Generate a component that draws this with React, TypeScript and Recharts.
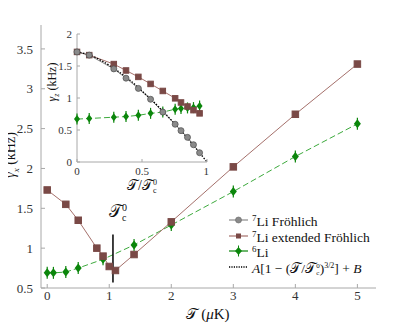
import { Line, LineChart, ReferenceLine, XAxis, YAxis } from 'recharts';

// Main panel: damping rate vs temperature
const extT = [0, 0.3, 0.5, 0.8, 0.9, 1.0, 1.1, 1.4, 2, 3, 4, 5];
const extGamma = [1.73, 1.55, 1.35, 1.0, 0.9, 0.77, 0.72, 0.92, 1.33, 2.02, 2.68, 3.31];
const li6T = [0, 0.1, 0.3, 0.5, 0.9, 1.4, 2, 3, 4, 5];
const li6Gamma = [0.69, 0.69, 0.7, 0.75, 0.86, 1.04, 1.29, 1.71, 2.15, 2.56];
const mainXTicks = [0, 1, 2, 3, 4, 5];
const mainYTicks = [0.5, 1, 1.5, 2, 2.5, 3, 3.5];
const tc0 = 1.06;
const tcMarkerRange = [0.57, 1.17];

// Inset: vs reduced temperature T/Tc0
const insetX = [0, 0.094, 0.283, 0.377, 0.472, 0.566, 0.66, 0.755, 0.8, 0.85, 0.896, 0.943];
const insetFroehlich = [1.72, 1.67, 1.455, 1.31, 1.15, 0.98, 0.78, 0.59, 0.49, 0.385, 0.27, 0.145];
const insetExtended = [1.72, 1.67, 1.53, 1.43, 1.33, 1.22, 1.11, 0.995, 0.93, 0.867, 0.81, 0.76];
const insetLi6 = [0.67, 0.68, 0.7, 0.71, 0.73, 0.76, 0.78, 0.825, 0.835, 0.845, 0.85, 0.875];
const fitX = [0, 0.1, 0.2, 0.3, 0.4, 0.5, 0.6, 0.7, 0.8, 0.9, 1.0];
const fitY = [1.72, 1.67, 1.57, 1.44, 1.29, 1.11, 0.92, 0.71, 0.49, 0.25, 0.0];
const insetXTicks = [0, 0.5, 1];
const insetYTicks = [0, 0.5, 1, 1.5, 2];

const BROWN = '#7a4946';
const BROWN_LINE = '#a5706b';
const GREEN = '#0b860b';
const GREEN_LINE = '#3daa3d';
const GRAY = '#8a8a8a';
const FRAME = '#a8a8a8';
const SERIF = 'Liberation Serif';

const pairs = (xs: number[], ys: number[]) => xs.map((x, i) => ({ x, y: ys[i] }));

const square = (s: number) => (p: any) => (
  <rect key={`s${p.index}`} x={p.cx - s / 2} y={p.cy - s / 2} width={s} height={s} fill={BROWN} stroke={BROWN} />
);
const diamond = (w: number, h: number) => (p: any) => (
  <g key={`d${p.index}`}>
    <line x1={p.cx} x2={p.cx} y1={p.cy - h - 1.5} y2={p.cy + h + 1.5} stroke={GREEN} strokeWidth={1.2} />
    <path d={`M${p.cx},${p.cy - h} L${p.cx + w},${p.cy} L${p.cx},${p.cy + h} L${p.cx - w},${p.cy} Z`} fill={GREEN} />
  </g>
);
const circle = (r: number) => (p: any) => (
  <circle key={`c${p.index}`} cx={p.cx} cy={p.cy} r={r} fill={GRAY} stroke="#555" strokeWidth={0.8} />
);

const tickStyle = { fill: '#333', fontSize: 13, fontFamily: SERIF };
const smallTick = { fill: '#333', fontSize: 11, fontFamily: SERIF };
const blank = () => '';
const Tcal = () => <span style={{ fontStyle: 'normal' }}>𝒯</span>;
const SubSup = ({ size }: { size: number }) => (
  <span style={{ display: 'inline-flex', flexDirection: 'column', fontSize: size, lineHeight: `${size}px`, verticalAlign: 'middle' }}>
    <span>0</span><span>c</span>
  </span>
);

function Inset() {
  return (
    <div style={{ position: 'absolute', left: 40, top: 26 }}>
      <LineChart width={169} height={158} margin={{ top: 8, right: 2, bottom: 6, left: 13 }}>
        <XAxis xAxisId="b" type="number" dataKey="x" domain={[0, 1]} ticks={insetXTicks} tick={smallTick}
          tickSize={-3} tickMargin={8} height={16} stroke={FRAME} tickFormatter={(v) => String(v)} />
        <XAxis xAxisId="t" orientation="top" type="number" dataKey="x" domain={[0, 1]} ticks={insetXTicks}
          tickSize={-3} height={0} stroke={FRAME} tickFormatter={blank} />
        <YAxis yAxisId="l" type="number" domain={[0, 2]} ticks={insetYTicks} tick={smallTick}
          tickSize={-3} tickMargin={8} width={24} stroke={FRAME} />
        <YAxis yAxisId="r" orientation="right" type="number" domain={[0, 2]} ticks={insetYTicks}
          tickSize={-3} width={0} stroke={FRAME} tickFormatter={blank} />
        <Line xAxisId="b" yAxisId="l" data={pairs(insetX, insetLi6)} dataKey="y" stroke={GREEN_LINE}
          strokeDasharray="6 3" strokeWidth={1} dot={diamond(3, 4)} isAnimationActive={false} />
        <Line xAxisId="b" yAxisId="l" data={pairs(insetX, insetExtended)} dataKey="y" stroke={BROWN_LINE}
          strokeWidth={1} dot={square(5.5)} isAnimationActive={false} />
        <Line xAxisId="b" yAxisId="l" data={pairs(insetX, insetFroehlich)} dataKey="y" stroke={GRAY}
          strokeWidth={1} dot={circle(3)} isAnimationActive={false} />
        <Line xAxisId="b" yAxisId="l" data={pairs(fitX, fitY)} dataKey="y" type="monotone" stroke="#000"
          strokeDasharray="1.5 1.5" strokeWidth={1.3} dot={false} isAnimationActive={false} />
      </LineChart>
    </div>
  );
}

export default function App() {
  const legendRow = (sample: JSX.Element, label: JSX.Element) => (
    <div style={{ display: 'flex', alignItems: 'center', height: 15.7 }}>
      <svg width={22} height={12} style={{ marginRight: 2 }}>{sample}</svg>
      <span>{label}</span>
    </div>
  );
  return (
    <div style={{ position: 'relative', width: 415, height: 334, margin: -8, fontFamily: SERIF, color: '#111' }}>
      <LineChart width={415} height={334} margin={{ top: 25, right: 39, bottom: 26, left: 11 }}>
        <XAxis xAxisId="b" type="number" dataKey="x" domain={[-0.1, 5.3]} ticks={mainXTicks} tick={tickStyle}
          tickSize={-4} tickMargin={7} height={20} stroke={FRAME} />
        <XAxis xAxisId="t" orientation="top" type="number" dataKey="x" domain={[-0.1, 5.3]} ticks={mainXTicks}
          tickSize={-4} height={0} stroke={FRAME} tickFormatter={blank} />
        <YAxis yAxisId="l" type="number" domain={[0.5, 3.8]} ticks={mainYTicks} tick={tickStyle}
          tickSize={-4} tickMargin={12} width={30} stroke={FRAME} />
        <YAxis yAxisId="r" orientation="right" type="number" domain={[0.5, 3.8]} ticks={mainYTicks}
          tickSize={-4} width={0} stroke={FRAME} tickFormatter={blank} />
        <Line xAxisId="b" yAxisId="l" data={pairs(li6T, li6Gamma)} dataKey="y" stroke={GREEN_LINE}
          strokeDasharray="6 3" strokeWidth={1} dot={diamond(3.5, 4.5)} isAnimationActive={false} />
        <Line xAxisId="b" yAxisId="l" data={pairs(extT, extGamma)} dataKey="y" stroke={BROWN_LINE}
          strokeWidth={1} dot={square(6.5)} isAnimationActive={false} />
        <ReferenceLine xAxisId="b" yAxisId="l" segment={[{ x: tc0, y: tcMarkerRange[0] }, { x: tc0, y: tcMarkerRange[1] }]}
          stroke="#000" strokeWidth={1.5} />
      </LineChart>
      <Inset />
      {/* axis titles */}
      <div style={{ position: 'absolute', left: 12, top: 155, transform: 'translate(-50%,-50%) rotate(-90deg)', fontSize: 14, whiteSpace: 'nowrap' }}>
        <i>γ</i><sub style={{ fontSize: 9 }}><i>x</i></sub> (kHz)
      </div>
      <div style={{ position: 'absolute', left: 208, top: 314, transform: 'translate(-50%,-50%)', fontSize: 15, whiteSpace: 'nowrap' }}>
        <Tcal /> (<i>μ</i>K)
      </div>
      <div style={{ position: 'absolute', left: 53, top: 82, transform: 'translate(-50%,-50%) rotate(-90deg)', fontSize: 12, whiteSpace: 'nowrap' }}>
        <i>γ</i><sub style={{ fontSize: 8 }}><i>z</i></sub> (kHz)
      </div>
      <div style={{ position: 'absolute', left: 142, top: 186, transform: 'translate(-50%,-50%)', fontSize: 14, whiteSpace: 'nowrap' }}>
        <Tcal />/<Tcal /><SubSup size={8} />
      </div>
      <div style={{ position: 'absolute', left: 118, top: 213, transform: 'translate(-50%,-50%)', fontSize: 17, whiteSpace: 'nowrap' }}>
        <Tcal /><SubSup size={10} />
      </div>
      {/* legend */}
      <div style={{ position: 'absolute', left: 228, top: 212, fontSize: 13.5, lineHeight: '15px' }}>
        {legendRow(
          <g><line x1={1} x2={20} y1={6} y2={6} stroke={GRAY} strokeWidth={1.2} /><circle cx={10.5} cy={6} r={3} fill={GRAY} stroke="#666" strokeWidth={0.6} /></g>,
          <span><sup style={{ fontSize: 9 }}>7</sup>Li Fröhlich</span>
        )}
        {legendRow(
          <g><line x1={1} x2={20} y1={6} y2={6} stroke={BROWN_LINE} strokeWidth={1.2} /><rect x={8} y={3.5} width={5} height={5} fill={BROWN} /></g>,
          <span><sup style={{ fontSize: 9 }}>7</sup>Li extended Fröhlich</span>
        )}
        {legendRow(
          <g><line x1={1} x2={20} y1={6} y2={6} stroke={GREEN} strokeWidth={1.2} /><path d="M10.5,2 L14,6 L10.5,10 L7,6 Z" fill={GREEN} /><line x1={10.5} x2={10.5} y1={0.5} y2={11.5} stroke={GREEN} /></g>,
          <span><sup style={{ fontSize: 9 }}>6</sup>Li</span>
        )}
        {legendRow(
          <g><line x1={1} x2={20} y1={6} y2={6} stroke="#000" strokeWidth={1.3} strokeDasharray="1.2 1.2" /></g>,
          <span><i>A</i>[1 − (<Tcal />/<Tcal /><SubSup size={7} />)<sup style={{ fontSize: 8 }}>3/2</sup>] + <i>B</i></span>
        )}
      </div>
    </div>
  );
}
